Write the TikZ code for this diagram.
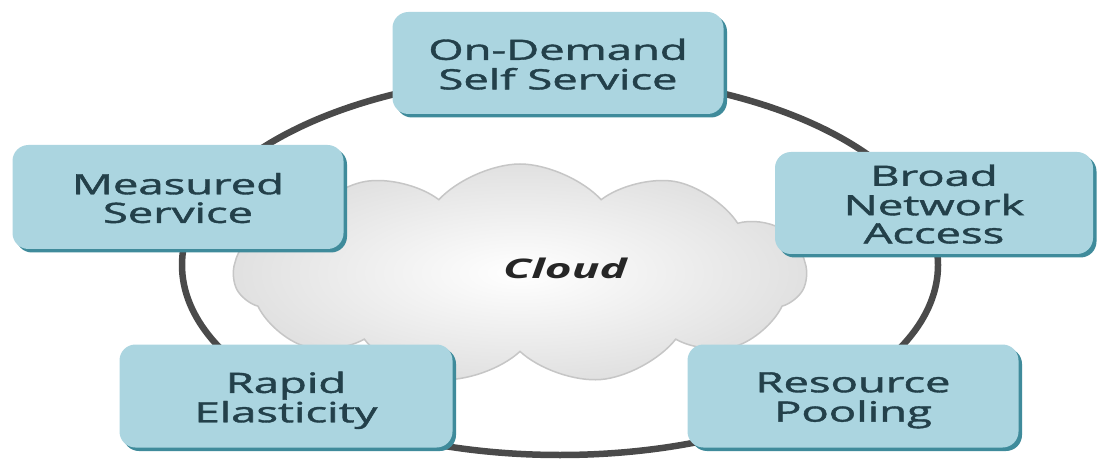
\documentclass[tikz,border=0pt]{standalone}
\usepackage{fontspec}
\setmainfont{Open Sans}
\newfontfamily\boxfont{Open Sans}[FakeBold=1.3]
\usetikzlibrary{shapes.symbols,shadows}
\definecolor{boxblue}{HTML}{ABD5E0}
\definecolor{boxshade}{HTML}{3F8B9B}
\definecolor{boxtext}{HTML}{23404A}
\definecolor{ringgray}{HTML}{4A4A4A}
\newcommand{\boxlabel}[1]{\raisebox{-5pt}[\height][\depth]{\scalebox{1.62}[1]{\boxfont\fontsize{28}{27}\selectfont\begin{tabular}{@{}c@{}}#1\end{tabular}}}}
\tikzset{
  featurebox/.style={rounded corners=16pt, fill=boxblue, text=boxtext, inner sep=0pt,
    general shadow={fill=boxshade, shadow xshift=3.5pt, shadow yshift=-3.5pt}},
  ringline/.style={draw=ringgray, line width=6.5pt},
}
\begin{document}
\begin{tikzpicture}[x=1pt,y=-1pt]
\useasboundingbox[fill=white] (0,0) rectangle (1102,462);
% ring
\draw[ringline] (560,265) ellipse [x radius=378pt, y radius=190pt];
% cloud
\node[cloud, cloud puffs=11, cloud puff arc=95, aspect=2.6, minimum width=572pt, minimum height=220pt,
      inner sep=0pt, draw=gray!45, line width=1.5pt, shading=radial, inner color=white, outer color=gray!24]
      (cloud) at (520,274) {};
\node[font=\bfseries\itshape\fontsize{27}{27}\selectfont, text=black!85] (cloudlabel) at (565,268)
      {\scalebox{1.7}[1]{Cloud}};
% boxes (shadow offset included)
\node[featurebox, minimum width=331pt, minimum height=102pt] (od) at (558,63) {\boxlabel{On-Demand\\Self Service}};
\node[featurebox, minimum width=331pt, minimum height=104pt] (ms) at (178,197) {\boxlabel{Measured\\Service}};
\node[featurebox, minimum width=318pt, minimum height=102pt] (bn) at (934,203) {\boxlabel{Broad\\Network\\Access}};
\node[featurebox, minimum width=333pt, minimum height=103pt] (re) at (286,396) {\boxlabel{Rapid\\Elasticity}};
\node[featurebox, minimum width=331pt, minimum height=103pt] (rp) at (853,396) {\boxlabel{Resource\\Pooling}};
\end{tikzpicture}
\end{document}
